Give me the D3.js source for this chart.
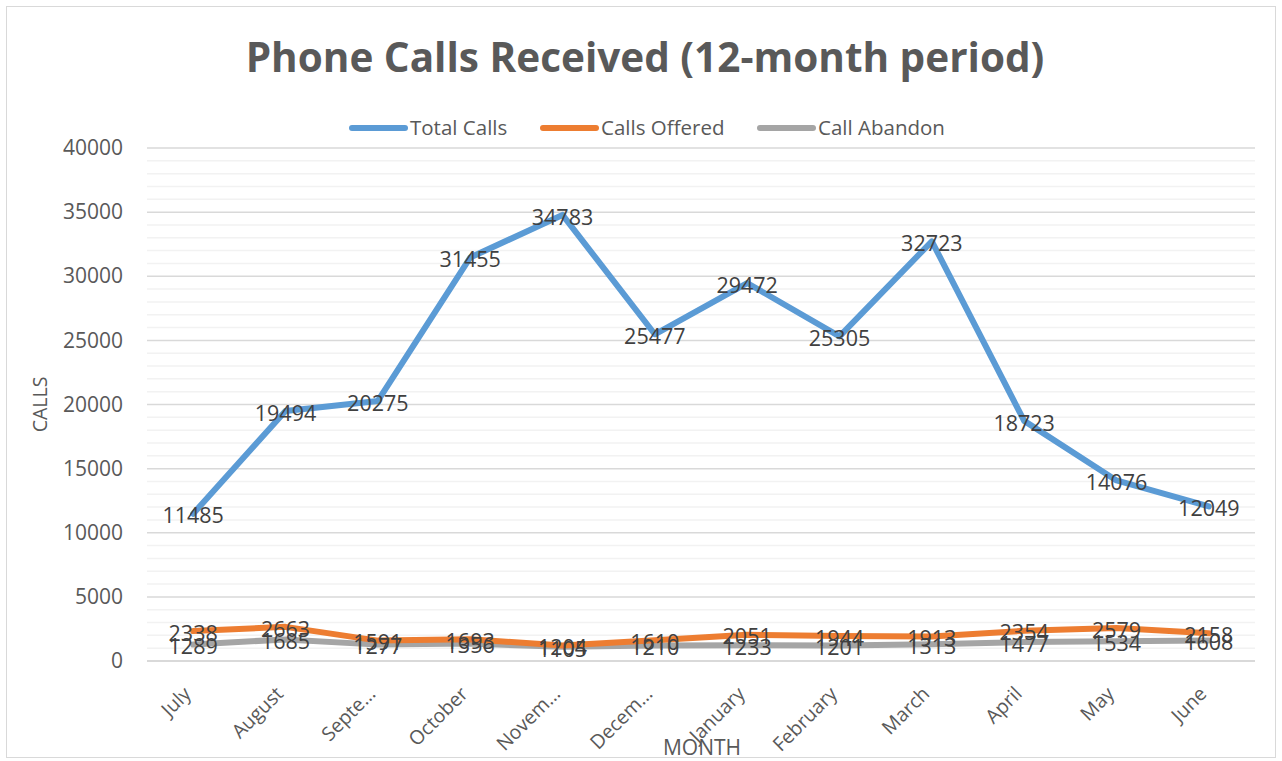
<!DOCTYPE html>
<html>
<head>
<meta charset="utf-8">
<script src="https://cdn.jsdelivr.net/npm/d3@7"></script>
<style>
  body { margin: 0; background: #fff; }
  svg { display: block; font-family: "Open Sans", sans-serif; }
</style>
</head>
<body>
<svg id="chart" width="1282" height="761"></svg>
<script>
const months = ['July', 'August', 'September', 'October', 'November', 'December',
                'January', 'February', 'March', 'April', 'May', 'June'];
const monthLabels = ['July', 'August', 'Septe…', 'October', 'Novem…', 'Decem…',
                     'January', 'February', 'March', 'April', 'May', 'June'];
const totalCalls = [11485, 19494, 20275, 31455, 34783, 25477, 29472, 25305, 32723, 18723, 14076, 12049];
const callsOffered = [2338, 2663, 1591, 1693, 1204, 1610, 2051, 1944, 1913, 2354, 2579, 2158];
const callAbandon = [1289, 1685, 1277, 1356, 1105, 1210, 1233, 1201, 1313, 1477, 1534, 1608];
const seriesNames = ['Total Calls', 'Calls Offered', 'Call Abandon'];
const yTicks = [0, 5000, 10000, 15000, 20000, 25000, 30000, 35000, 40000];

const colors = ['#5b9bd5', '#ed7d31', '#a5a5a5'];
const series = [totalCalls, callsOffered, callAbandon].map((vals, i) => ({
    name: seriesNames[i], color: colors[i], values: vals
}));

const svg = d3.select('#chart');
const plot = {left: 147, right: 1255, top: 148, bottom: 661};

// outer chart border
svg.append('rect')
    .attr('x', 6.5).attr('y', 6.5)
    .attr('width', 1269).attr('height', 751)
    .attr('fill', '#fff').attr('stroke', '#d9d9d9');

const x = d3.scaleBand().domain(months).range([plot.left, plot.right]);
const y = d3.scaleLinear().domain([0, 40000]).range([plot.bottom, plot.top]);

// minor gridlines
svg.append('g').selectAll('line')
    .data(d3.range(1000, 40001, 1000).filter(v => v % 5000 !== 0))
    .join('line')
    .attr('x1', plot.left).attr('x2', plot.right)
    .attr('y1', d => y(d)).attr('y2', d => y(d))
    .attr('stroke', '#f2f2f2').attr('stroke-width', 1.5);

// major gridlines
svg.append('g').selectAll('line')
    .data(yTicks.filter(v => v > 0))
    .join('line')
    .attr('x1', plot.left).attr('x2', plot.right)
    .attr('y1', d => y(d)).attr('y2', d => y(d))
    .attr('stroke', '#d9d9d9').attr('stroke-width', 1.5);

// x axis line
svg.append('line')
    .attr('x1', plot.left).attr('x2', plot.right)
    .attr('y1', y(0)).attr('y2', y(0))
    .attr('stroke', '#d9d9d9').attr('stroke-width', 2);

// y axis labels
const yAxis = d3.axisLeft(y).tickValues(yTicks).tickSize(0).tickPadding(0).tickFormat(d3.format('d'));
svg.append('g')
    .attr('transform', `translate(123,0)`)
    .call(yAxis)
    .call(g => g.select('.domain').remove())
    .selectAll('text')
    .attr('font-family', '"Open Sans", sans-serif')
    .attr('font-size', 21)
    .attr('fill', '#595959');

// x axis labels, rotated
const xAxis = d3.axisBottom(x).tickSize(0).tickFormat((d, i) => monthLabels[i]);
svg.append('g')
    .attr('transform', `translate(0,${plot.bottom})`)
    .call(xAxis)
    .call(g => g.select('.domain').remove())
    .selectAll('text')
    .attr('font-family', '"Open Sans", sans-serif')
    .attr('font-size', 19.5)
    .attr('fill', '#595959')
    .attr('text-anchor', 'end')
    .attr('dy', 0)
    .attr('y', 0)
    .attr('transform', 'translate(-1,34) rotate(-45)');

// axis titles
svg.append('text')
    .attr('transform', `translate(47,${(plot.top + plot.bottom) / 2}) rotate(-90)`)
    .attr('text-anchor', 'middle')
    .attr('font-size', 19.5)
    .attr('fill', '#595959')
    .text('CALLS');

svg.append('text')
    .attr('x', 702).attr('y', 755)
    .attr('text-anchor', 'middle')
    .attr('font-size', 21)
    .attr('fill', '#595959')
    .text('MONTH');

// title
svg.append('text')
    .attr('x', 645).attr('y', 72)
    .attr('text-anchor', 'middle')
    .attr('font-size', 40.5)
    .attr('font-weight', 'bold')
    .attr('fill', '#595959')
    .text('Phone Calls Received (12-month period)');

// lines
const line = d3.line()
    .x((d, i) => x(months[i]) + x.bandwidth() / 2)
    .y(d => y(d));

svg.append('g').selectAll('path')
    .data(series.slice().reverse())
    .join('path')
    .attr('d', d => line(d.values))
    .attr('fill', 'none')
    .attr('stroke', d => d.color)
    .attr('stroke-width', 6)
    .attr('stroke-linejoin', 'round')
    .attr('stroke-linecap', 'round');

// data labels
series.forEach(s => {
    svg.append('g').selectAll('text')
        .data(s.values)
        .join('text')
        .attr('x', (d, i) => x(months[i]) + x.bandwidth() / 2)
        .attr('y', d => y(d))
        .attr('dy', '0.45em')
        .attr('text-anchor', 'middle')
        .attr('font-size', 21.5)
        .attr('fill', '#404040')
        .text(d => d);
});

// legend
const legendX = [352, 543, 760];
const legend = svg.append('g').selectAll('g')
    .data(series)
    .join('g')
    .attr('transform', (d, i) => `translate(${legendX[i]},128)`);
legend.append('line')
    .attr('x1', 0).attr('x2', 53)
    .attr('stroke', d => d.color)
    .attr('stroke-width', 6)
    .attr('stroke-linecap', 'round');
legend.append('text')
    .attr('x', 58).attr('dy', '0.35em')
    .attr('font-size', 20.5)
    .attr('fill', '#595959')
    .text(d => d.name);
</script>
</body>
</html>
